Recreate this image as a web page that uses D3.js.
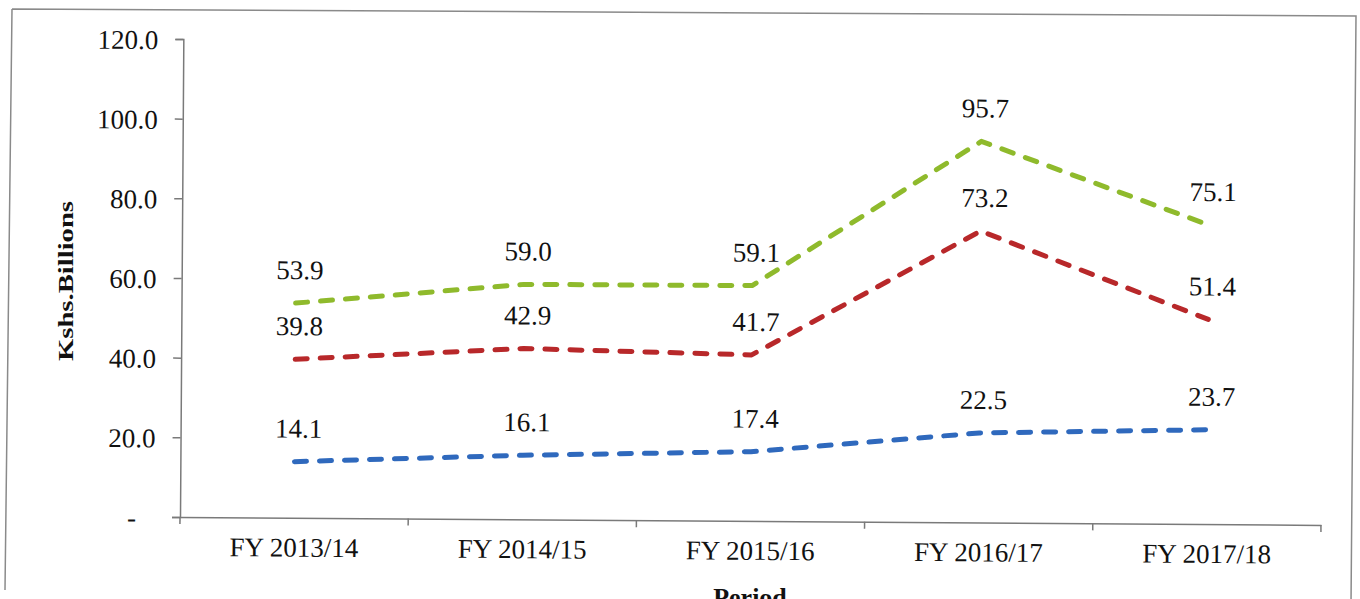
<!DOCTYPE html>
<html>
<head>
<meta charset="utf-8">
<script src="https://cdn.jsdelivr.net/npm/d3@7"></script>
<style>
  body { margin: 0; background: #fff; }
  svg { display: block; }
  text { font-family: "Liberation Serif", "Times New Roman", serif; fill: #111; }
</style>
</head>
<body>
<div id="chart"></div>
<script>
// data
var periods = ["FY 2013/14", "FY 2014/15", "FY 2015/16", "FY 2016/17", "FY 2017/18"];
var greenVals = [53.9, 59.0, 59.1, 95.7, 75.1];
var redVals = [39.8, 42.9, 41.7, 73.2, 51.4];
var blueVals = [14.1, 16.1, 17.4, 22.5, 23.7];
var yTicks = [0, 20, 40, 60, 80, 100, 120];

var series = [
    { name: "green", color: "#8fba2c", values: greenVals },
    { name: "red", color: "#b8282a", values: redVals },
    { name: "blue", color: "#2f69bd", values: blueVals }
];

var W = 1360, H = 599;
var plot = { left: 180, right: 1321, top: 39, bottom: 517 };

var svg = d3.select("#chart")
    .append("svg")
    .attr("width", W)
    .attr("height", H);

// page frame from the scan (slightly skewed)
svg.append("path")
    .attr("d", "M12,9 L1356,16 L1351,605 M5,590 L12,9")
    .attr("fill", "none")
    .attr("stroke", "#8a8a8a")
    .attr("stroke-width", 1.5);

// the whole chart is tilted a little in the scan
var g = svg.append("g")
    .attr("transform", "rotate(0.4," + plot.left + "," + plot.bottom + ")");

var x = d3.scaleBand()
    .domain(periods)
    .range([plot.left, plot.right]);

var y = d3.scaleLinear()
    .domain([0, 120])
    .range([plot.bottom, plot.top]);

var cx = function (d, i) { return x(periods[i]) + x.bandwidth() / 2; };

// y axis
var yAxis = g.append("g")
    .attr("transform", "translate(" + plot.left + ",0)")
    .call(d3.axisLeft(y)
        .tickValues(yTicks)
        .tickSize(8)
        .tickPadding(17)
        .tickFormat(function (d) { return d === 0 ? "-" : d.toFixed(1); }));
yAxis.selectAll("path, line").attr("stroke", "#7a7a7a").attr("stroke-width", 1.5);
yAxis.selectAll("text")
    .style("font-size", "27px")
    .attr("dy", "0.36em")
    .attr("dx", function (d) { return d === 0 ? -19 : 0; });

// x axis: labels centred, ticks at the category edges
var xAxis = g.append("g")
    .attr("transform", "translate(0," + plot.bottom + ")")
    .call(d3.axisBottom(x).tickSize(0).tickPadding(14));
xAxis.select(".domain").attr("stroke", "#7a7a7a").attr("stroke-width", 1.5);
xAxis.selectAll("text").style("font-size", "27px").attr("dy", "0.92em");

var edges = periods.map(function (p) { return x(p); }).concat([plot.right]);
g.append("g").selectAll("line")
    .data(edges)
    .enter().append("line")
    .attr("x1", function (d) { return d; })
    .attr("x2", function (d) { return d; })
    .attr("y1", plot.bottom)
    .attr("y2", plot.bottom + 7)
    .attr("stroke", "#7a7a7a")
    .attr("stroke-width", 1.5);

// axis titles
svg.append("text")
    .attr("transform", "translate(73,281) rotate(-90)")
    .attr("text-anchor", "middle")
    .attr("font-weight", "bold")
    .attr("textLength", 160)
    .attr("lengthAdjust", "spacingAndGlyphs")
    .style("font-size", "21px")
    .text("Kshs.Billions");

// cut by the bottom edge, as in the scan
svg.append("text")
    .attr("x", 750)
    .attr("y", 606)
    .attr("text-anchor", "middle")
    .attr("font-weight", "bold")
    .style("font-size", "26px")
    .text("Period");

// lines
var line = d3.line()
    .x(cx)
    .y(function (d) { return y(d); });

series.forEach(function (s) {
    g.append("path")
        .datum(s.values)
        .attr("d", line)
        .attr("fill", "none")
        .attr("stroke", s.color)
        .attr("stroke-width", 5)
        .attr("stroke-dasharray", "12,13")
        .attr("stroke-linecap", "round")
        .attr("stroke-linejoin", "round");

    g.append("g").selectAll("text")
        .data(s.values)
        .enter().append("text")
        .attr("x", function (d, i) { return cx(d, i) + 4; })
        .attr("y", function (d) { return y(d) - 24; })
        .attr("text-anchor", "middle")
        .style("font-size", "27px")
        .text(function (d) { return d.toFixed(1); });
});
</script>
</body>
</html>
